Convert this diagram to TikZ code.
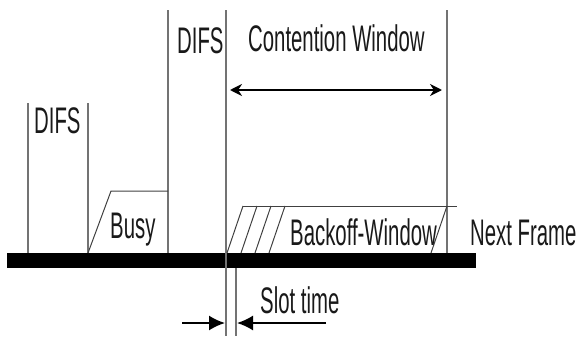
\documentclass[tikz,border=0pt]{standalone}
\usepackage{fontspec}
\setmainfont[FakeStretch=0.55]{Liberation Sans}
\usetikzlibrary{arrows.meta, positioning}

\begin{document}
\begin{tikzpicture}[x=1pt, y=-1pt,
          txt/.style={font=\fontsize{37}{44}\selectfont, inner sep=0pt, anchor=base west, text=black!90},
          tick/.style={draw=black!55, line width=1.6pt},
          edgeline/.style={draw=black!75, line width=1pt},
          dimarrow/.style={{Stealth[length=12pt, width=12pt]}-{Stealth[length=12pt, width=12pt]}, line width=2pt},
          slotarrow/.style={-{Latex[length=16pt, width=15pt]}, line width=1.8pt}]

        \useasboundingbox (0,0) rectangle (579,340);

        \fill (7,253) rectangle (476,268);

        \draw [tick] (28,103) -- (28,253);
        \draw [tick] (88,103) -- (88,253);
        \draw [tick] (168,10) -- (168,253);
        \draw [tick] (226,10) -- (226,336);
        \draw [tick] (236,268) -- (236,336);
        \draw [tick] (447,10) -- (447,253);

        \draw [edgeline] (88,253) -- (111,191) -- (168,191);

        \draw [edgeline] (243,206) -- (457,206);
        \foreach \dx in {0,14,28,42}
          \draw [edgeline] (227+\dx,253) -- (243+\dx,206);
        \draw [edgeline] (431,253) -- (447,206);

        \node [txt] (difsa) at (34,133) {DIFS};
        \node [txt] (busy) at (110,238) {Busy};
        \node [txt] (difsb) at (177,53) {DIFS};
        \node [txt] (cw) at (248,52) {Contention Window};
        \node [txt] (backoff) at (290,245) {Backoff-Window};
        \node [txt] (next) at (470,245) {Next Frame};
        \node [txt] (slot) at (260,313) {Slot time};

        \coordinate (cwl) at (230,90);
        \coordinate (cwr) at (442,90);
        \coordinate (sla) at (182,323);
        \coordinate (slb) at (225,323);
        \coordinate (slc) at (326,323);
        \coordinate (sld) at (237,323);

        \draw [dimarrow] (cwl) -- (cwr);
        \draw [slotarrow] (sla) -- (slb);
        \draw [slotarrow] (slc) -- (sld);
      \end{tikzpicture}
\end{document}
